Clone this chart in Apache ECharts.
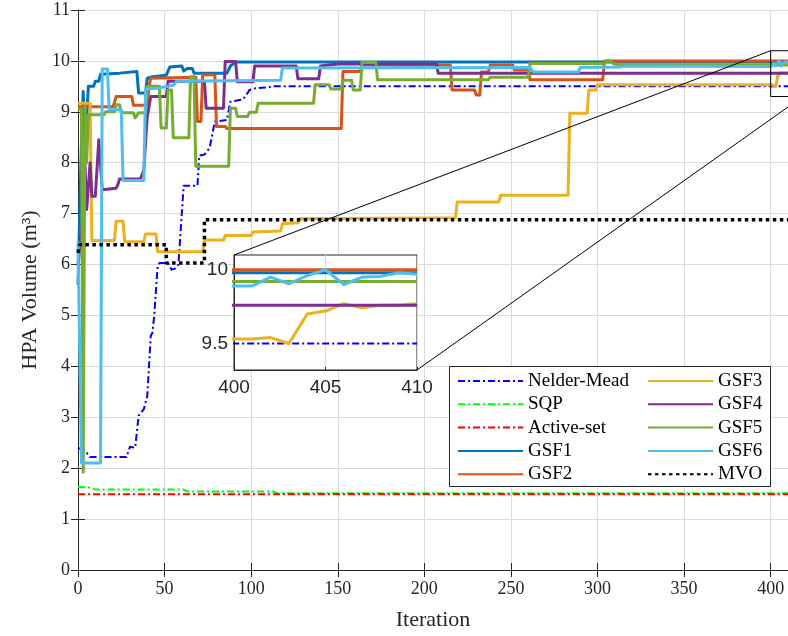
<!DOCTYPE html>
<html>
<head>
<meta charset="utf-8">
<script src="https://cdn.jsdelivr.net/npm/echarts@6/dist/echarts.min.js"></script>
<style>
  html, body { margin: 0; padding: 0; background: #ffffff; }
  #chart { width: 788px; height: 636px; }
</style>
</head>
<body>
<div id="chart"></div>
<script>
// ---- convergence histories: [iteration, HPA volume (m^3)] ----
const nelderMead = [[0,2.4],[4,2.34],[7,2.22],[28,2.22],[30,2.42],[33,2.4],[35,3.03],[38,3.16],[40,3.42],[42,4.6],[43,4.66],[44,5.0],[46,5.97],[47,6.03],[52,6.03],[54,5.9],[56,5.92],[58,6.0],[61,7.55],[69,7.55],[70,8.14],[73,8.16],[76,8.29],[79,8.81],[86,8.84],[88,9.2],[95,9.24],[97,9.32],[99,9.43],[102,9.46],[110,9.48],[112,9.5],[410,9.5]];
const sqp = [[0,1.63],[7,1.62],[10,1.58],[61,1.58],[63,1.54],[113,1.54],[115,1.51],[410,1.51]];
const activeSet = [[0,1.49],[410,1.49]];
const gsf1 = [[0,5.6],[2,8.4],[3,9.4],[4,8.3],[6,9.5],[9,9.5],[10,9.6],[12,9.6],[13,9.74],[24,9.76],[25,9.79],[34,9.79],[35,9.37],[39,9.37],[40,9.66],[43,9.69],[51,9.72],[53,9.88],[60,9.9],[61,9.8],[63,9.85],[66,9.85],[67,9.76],[86,9.76],[88,9.9],[91,9.98],[410,9.98]];
const gsf2 = [[0,9.1],[20,9.1],[21,9.17],[22,9.3],[31,9.3],[32,9.13],[40,9.13],[41,9.5],[42,9.66],[68,9.68],[69,8.81],[71,8.81],[72,9.73],[79,9.73],[80,8.71],[85,8.71],[86,8.67],[152,8.67],[153,9.79],[163,9.79],[164,9.92],[215,9.92],[216,9.43],[229,9.43],[230,9.33],[232,9.33],[233,9.78],[237,9.78],[238,9.92],[251,9.92],[252,9.82],[260,9.82],[261,9.63],[303,9.63],[304,10.0],[410,10.0]];
const gsf3 = [[0,9.17],[7,9.17],[8,6.47],[21,6.47],[22,6.85],[26,6.85],[27,6.45],[38,6.45],[39,6.6],[45,6.6],[46,6.25],[72,6.25],[73,6.48],[84,6.48],[85,6.57],[100,6.57],[101,6.64],[117,6.66],[118,6.8],[127,6.82],[128,6.9],[218,6.92],[219,7.23],[243,7.23],[244,7.36],[283,7.36],[284,8.97],[294,8.97],[295,9.43],[299,9.43],[300,9.53],[401,9.53],[402,9.54],[403,9.5],[404,9.7],[405,9.72],[406,9.77],[407,9.74],[408,9.76],[409,9.76],[410,9.77]];
const gsf4 = [[0,6.0],[3,7.0],[4,8.0],[5,7.08],[6,7.1],[7,8.0],[8,7.34],[10,7.34],[12,8.45],[13,8.45],[14,7.47],[22,7.5],[23,7.57],[24,7.68],[36,7.68],[38,7.85],[39,8.4],[40,8.91],[42,9.3],[51,9.3],[52,9.6],[73,9.6],[74,9.07],[84,9.07],[85,9.99],[91,9.99],[92,9.59],[101,9.59],[102,9.9],[126,9.9],[127,9.65],[139,9.65],[140,9.9],[150,9.94],[207,9.94],[208,9.76],[410,9.76]];
const gsf5 = [[0,9.05],[2,9.05],[3,1.92],[4,9.1],[5,8.0],[6,8.94],[15,8.94],[16,9.0],[21,9.0],[22,9.14],[24,9.14],[25,8.98],[32,8.98],[33,8.88],[34,8.88],[35,8.98],[39,8.98],[40,9.5],[47,9.5],[48,8.68],[51,8.68],[52,9.43],[54,9.43],[55,8.49],[64,8.49],[65,9.69],[67,9.69],[68,7.93],[87,7.93],[88,9.07],[91,9.07],[92,8.91],[98,8.91],[99,8.99],[103,8.99],[104,9.17],[136,9.17],[137,9.53],[145,9.53],[146,9.45],[152,9.45],[153,9.62],[158,9.62],[159,9.43],[163,9.43],[164,9.97],[172,9.97],[173,9.63],[237,9.63],[238,9.68],[260,9.68],[261,9.95],[304,9.95],[306,10.01],[309,9.95],[313,9.92],[410,9.92]];
const gsf6 = [[0,6.45],[2,2.1],[13,2.1],[14,9.84],[17,9.84],[18,9.04],[25,9.04],[26,7.65],[38,7.65],[39,9.45],[47,9.47],[48,9.5],[55,9.52],[57,9.6],[117,9.62],[118,9.86],[261,9.87],[263,9.78],[289,9.78],[290,9.87],[313,9.88],[315,9.9],[400,9.89],[401,9.89],[402,9.95],[403,9.905],[404,9.96],[405,10.0],[406,9.9],[407,9.95],[408,9.955],[409,9.98],[410,9.97]];
const mvo = [[0,6.23],[1,6.39],[51,6.39],[51,6.03],[73,6.03],[73,6.88],[410,6.88]];

const seriesNames = ['Nelder-Mead', 'SQP', 'Active-set', 'GSF1', 'GSF2', 'GSF3', 'GSF4', 'GSF5', 'GSF6', 'MVO'];
const seriesValues = [nelderMead, sqp, activeSet, gsf1, gsf2, gsf3, gsf4, gsf5, gsf6, mvo];

// axis ranges and tick labels
const mainX = [0, 410], mainXStep = 50;
const mainY = [0, 11], mainYStep = 1;
const insetX = [400, 410], insetXStep = 5;
const insetY = [9.32, 10.1];
const insetYTicks = [9.5, 10];
// magnified window drawn on the main axes
const zoomWinX = [400, 418.5];
const zoomWinY = [9.3, 10.2];
// series shown inside the magnified view
const insetSeries = ['Nelder-Mead', 'GSF1', 'GSF2', 'GSF3', 'GSF4', 'GSF5', 'GSF6'];

// ---- styling ----
const colors = {
  'Nelder-Mead': '#0000FF', 'SQP': '#00FF00', 'Active-set': '#FF0000',
  'GSF1': '#0072BD', 'GSF2': '#D95319', 'GSF3': '#EDB120',
  'GSF4': '#7E2F8E', 'GSF5': '#77AC30', 'GSF6': '#4DBEEE', 'MVO': '#000000'
};
const dashDot = [7, 3, 2, 3];
const lineStyles = {
  'Nelder-Mead': { width: 2, type: dashDot },
  'SQP': { width: 2, type: dashDot },
  'Active-set': { width: 2, type: dashDot },
  'MVO': { width: 3.5, type: [3.5, 3.5], cap: 'butt' }
};
const serif = 'Liberation Serif, Times New Roman, serif';
const sans = 'Liberation Sans, Arial, sans-serif';
const axisInk = '#262626';
const gridInk = '#dadada';

function styleOf(name) {
  const s = lineStyles[name] || { width: 3, type: 'solid' };
  return Object.assign({ color: colors[name], join: 'round' }, s);
}

const series = [];
seriesNames.forEach((name, i) => {
  series.push({
    name, type: 'line', xAxisIndex: 0, yAxisIndex: 0,
    data: seriesValues[i], symbol: 'none', showSymbol: false,
    lineStyle: styleOf(name), itemStyle: { color: colors[name] },
    animation: false, z: 2
  });
});
seriesNames.forEach((name, i) => {
  if (!insetSeries.includes(name)) return;
  series.push({
    name, type: 'line', xAxisIndex: 2, yAxisIndex: 2,
    data: seriesValues[i], symbol: 'none', showSymbol: false,
    lineStyle: styleOf(name), itemStyle: { color: colors[name] },
    animation: false, z: 5, clip: true
  });
});

// legend keys show the line sample only
const legendCommon = {
  orient: 'vertical', top: 371, padding: 0,
  itemWidth: 65, itemHeight: 20, itemGap: 3.3,
  itemStyle: { opacity: 0 },
  textStyle: { fontFamily: serif, fontSize: 19, color: '#000', lineHeight: 20 },
  z: 8, selectedMode: false
};

const option = {
  backgroundColor: '#ffffff',
  animation: false,
  grid: [
    { left: 78, top: 10, width: 711, height: 561 },
    { left: 234, top: 255, width: 183, height: 115 }
  ],
  legend: [
    Object.assign({ left: 457, data: seriesNames.slice(0, 5) }, legendCommon),
    Object.assign({ left: 647, data: seriesNames.slice(5) }, legendCommon)
  ],
  xAxis: [
    {
      type: 'value', gridIndex: 0, position: 'bottom', min: mainX[0], max: mainX[1], interval: mainXStep,
      name: 'Iteration', nameLocation: 'middle', nameGap: 39,
      nameTextStyle: { fontFamily: serif, fontSize: 22, color: axisInk },
      axisLine: { show: true, lineStyle: { color: axisInk, width: 1 } },
      axisTick: { show: true, inside: true, length: 7, lineStyle: { color: axisInk } },
      axisLabel: { fontFamily: serif, fontSize: 18, color: axisInk, margin: 10, showMaxLabel: false },
      splitLine: { show: true, lineStyle: { color: gridInk, width: 1 } }
    },
    {
      type: 'value', gridIndex: 0, position: 'top', min: mainX[0], max: mainX[1], interval: mainXStep,
      axisLine: { show: true, lineStyle: { color: axisInk, width: 1 } },
      axisTick: { show: true, inside: true, length: 7, lineStyle: { color: axisInk } },
      axisLabel: { show: false }, splitLine: { show: false }
    },
    {
      type: 'value', gridIndex: 1, position: 'bottom', min: insetX[0], max: insetX[1], interval: insetXStep,
      axisLine: { show: true, lineStyle: { color: axisInk, width: 1 } },
      axisTick: { show: true, inside: true, length: 3, lineStyle: { color: axisInk } },
      axisLabel: { fontFamily: sans, fontSize: 19, color: axisInk, margin: 8 },
      splitLine: { show: true, lineStyle: { color: gridInk, width: 1 } },
      z: 5
    }
  ],
  yAxis: [
    {
      type: 'value', gridIndex: 0, position: 'left', min: mainY[0], max: mainY[1], interval: mainYStep,
      name: 'HPA Volume (m³)', nameLocation: 'middle', nameGap: 36,
      nameTextStyle: { fontFamily: serif, fontSize: 22, color: axisInk },
      axisLine: { show: true, lineStyle: { color: axisInk, width: 1 } },
      axisTick: { show: true, inside: true, length: 7, lineStyle: { color: axisInk } },
      axisLabel: { fontFamily: serif, fontSize: 18, color: axisInk, margin: 8 },
      splitLine: { show: true, lineStyle: { color: gridInk, width: 1 } }
    },
    {
      type: 'value', gridIndex: 0, position: 'right', min: mainY[0], max: mainY[1], interval: mainYStep,
      axisLine: { show: true, lineStyle: { color: axisInk, width: 1 } },
      axisTick: { show: true, inside: true, length: 7, lineStyle: { color: axisInk } },
      axisLabel: { show: false }, splitLine: { show: false }
    },
    {
      type: 'value', gridIndex: 1, position: 'left', min: insetY[0], max: insetY[1],
      axisLine: { show: true, lineStyle: { color: axisInk, width: 1 } },
      axisTick: { show: true, inside: true, length: 3, customValues: insetYTicks, lineStyle: { color: axisInk } },
      axisLabel: { fontFamily: sans, fontSize: 19, color: axisInk, margin: 6, customValues: insetYTicks },
      splitLine: { show: false },
      z: 5
    }
  ],
  series
};

const chart = echarts.init(document.getElementById('chart'), null, { renderer: 'canvas' });
chart.setOption(option);

// inset frame, magnifier window and the two leader lines
const onMain = { xAxisIndex: 0, yAxisIndex: 0 };
const onInset = { xAxisIndex: 2, yAxisIndex: 2 };
const iTL = chart.convertToPixel(onInset, [insetX[0], insetY[1]]);
const iBR = chart.convertToPixel(onInset, [insetX[1], insetY[0]]);
const wTL = chart.convertToPixel(onMain, [zoomWinX[0], zoomWinY[1]]);
const wBR = chart.convertToPixel(onMain, [zoomWinX[1], zoomWinY[0]]);

chart.setOption({
  graphic: [
    {
      type: 'rect', z: 3, silent: true,
      shape: { x: iTL[0], y: iTL[1], width: iBR[0] - iTL[0], height: iBR[1] - iTL[1] },
      style: { fill: '#ffffff', stroke: axisInk, lineWidth: 1 }
    },
    {
      type: 'rect', z: 3, silent: true,
      shape: { x: 449.5, y: 366.5, width: 321, height: 120 },
      style: { fill: '#ffffff', stroke: axisInk, lineWidth: 1 }
    },
    {
      type: 'rect', z: 7, silent: true,
      shape: { x: wTL[0], y: wTL[1], width: wBR[0] - wTL[0], height: wBR[1] - wTL[1] },
      style: { fill: 'none', stroke: '#000000', lineWidth: 1 }
    },
    {
      type: 'line', z: 7, silent: true,
      shape: { x1: iTL[0], y1: iTL[1], x2: wTL[0], y2: wTL[1] },
      style: { stroke: '#000000', lineWidth: 1 }
    },
    {
      type: 'line', z: 7, silent: true,
      shape: { x1: iBR[0], y1: iBR[1], x2: wBR[0], y2: wBR[1] },
      style: { stroke: '#000000', lineWidth: 1 }
    }
  ]
});
</script>
</body>
</html>
